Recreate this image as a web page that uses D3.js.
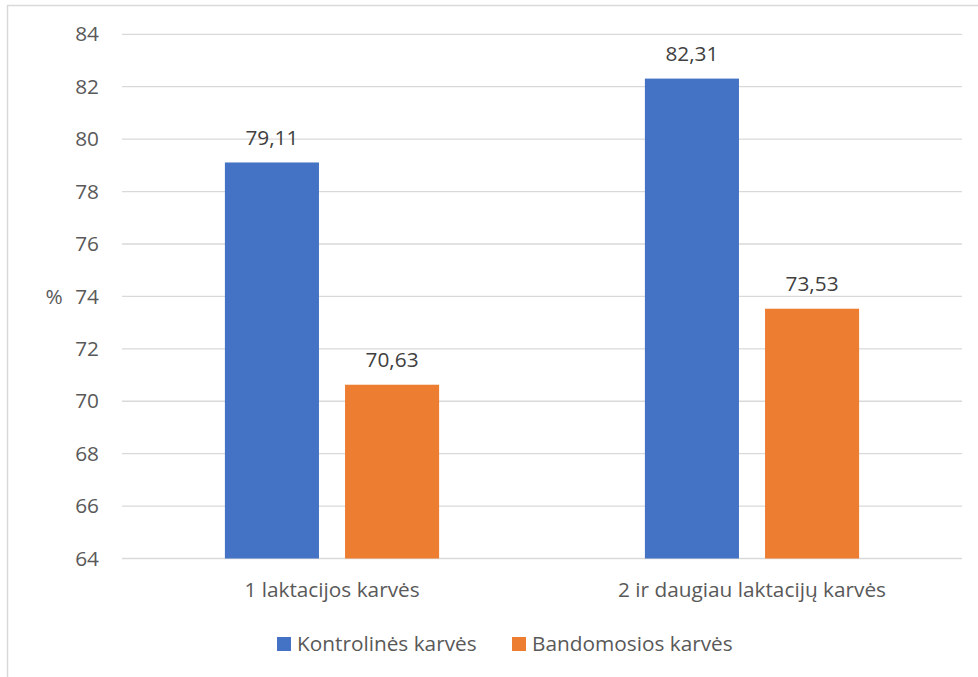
<!DOCTYPE html>
<html>
<head>
<meta charset="utf-8">
<script src="https://cdn.jsdelivr.net/npm/d3@7"></script>
<style>
  html, body { margin: 0; padding: 0; background: #fff; }
  svg { display: block; }
  text { font-family: "Open Sans", "Noto Sans", sans-serif; }
</style>
</head>
<body>
<svg id="chart" width="978" height="677"></svg>
<script>
// Categories, series and axis ticks
const categories = ["1 laktacijos karvės", "2 ir daugiau laktacijų karvės"];
const seriesNames = ["Kontrolinės karvės", "Bandomosios karvės"];
const kontrolines = [79.11, 82.31];
const bandomosios = [70.63, 73.53];
const yTicks = [64, 66, 68, 70, 72, 74, 76, 78, 80, 82, 84];
const yLabel = "%";
const colors = ["#4472C4", "#ED7D31"];

const values = [kontrolines, bandomosios];
const rows = categories.map((c, i) => ({
  category: c,
  items: seriesNames.map((s, j) => ({ series: s, value: values[j][i], color: colors[j] }))
}));

const svg = d3.select("#chart");
const W = 978, H = 677;
const plot = { left: 122, right: 962, top: 34.3, bottom: 558.5 };
const FS = "20.8px";

// outer chart frame
svg.append("rect")
  .attr("x", 7.5).attr("y", 5.5)
  .attr("width", W + 10).attr("height", H + 10)
  .attr("fill", "none").attr("stroke", "#D9D9D9").attr("stroke-width", 1.5);

const y = d3.scaleLinear().domain([64, 84]).range([plot.bottom, plot.top]);
const x0 = d3.scaleBand().domain(categories).range([plot.left, plot.right]).paddingInner(0.49).paddingOuter(0.245);
const x1 = d3.scaleBand().domain(seriesNames).range([0, x0.bandwidth()]).paddingInner(0.217);

// gridlines
svg.append("g")
  .selectAll("line").data(yTicks).join("line")
  .attr("x1", plot.left).attr("x2", plot.right)
  .attr("y1", d => y(d)).attr("y2", d => y(d))
  .attr("stroke", "#D9D9D9").attr("stroke-width", 1.3);

// y axis tick labels
const yAxis = d3.axisLeft(y).tickValues(yTicks).tickSize(0).tickPadding(0).tickFormat(d3.format("d"));
svg.append("g")
  .attr("transform", `translate(99,0)`)
  .call(yAxis)
  .call(g => g.select(".domain").remove())
  .call(g => g.selectAll("text")
    .attr("fill", "#595959")
    .style("font-size", FS)
    .style("font-family", "'Open Sans', sans-serif"));

// axis title
svg.append("text")
  .attr("x", 54).attr("y", y(74))
  .attr("dy", "0.35em").attr("text-anchor", "middle")
  .attr("fill", "#595959").style("font-size", FS)
  .text(yLabel);

// bars
const groups = svg.append("g").selectAll("g").data(rows).join("g")
  .attr("transform", d => `translate(${x0(d.category)},0)`);

groups.selectAll("rect").data(d => d.items).join("rect")
  .attr("x", d => x1(d.series))
  .attr("width", x1.bandwidth())
  .attr("y", d => y(d.value))
  .attr("height", d => y(64) - y(d.value))
  .attr("fill", d => d.color);

// value labels
const fmt = v => d3.format(".2f")(v).replace(".", ",");
groups.selectAll("text.val").data(d => d.items).join("text")
  .attr("class", "val")
  .attr("x", d => x1(d.series) + x1.bandwidth() / 2)
  .attr("y", d => y(d.value) - 25)
  .attr("dy", "0.35em").attr("text-anchor", "middle")
  .attr("fill", "#404040").style("font-size", FS)
  .text(d => fmt(d.value));

// category labels
svg.append("g").selectAll("text").data(categories).join("text")
  .attr("x", d => x0(d) + x0.bandwidth() / 2)
  .attr("y", 590)
  .attr("dy", "0.35em").attr("text-anchor", "middle")
  .attr("fill", "#595959").style("font-size", FS)
  .text(d => d);

// legend
const legendX = [277, 512];
const legend = svg.append("g").selectAll("g").data(seriesNames).join("g")
  .attr("transform", (d, i) => `translate(${legendX[i]},644)`);
legend.append("rect")
  .attr("x", 0).attr("y", -7).attr("width", 14).attr("height", 14)
  .attr("fill", (d, i) => colors[i]);
legend.append("text")
  .attr("x", 20).attr("y", 0).attr("dy", "0.35em")
  .attr("fill", "#595959").style("font-size", FS)
  .text(d => d);
</script>
</body>
</html>
